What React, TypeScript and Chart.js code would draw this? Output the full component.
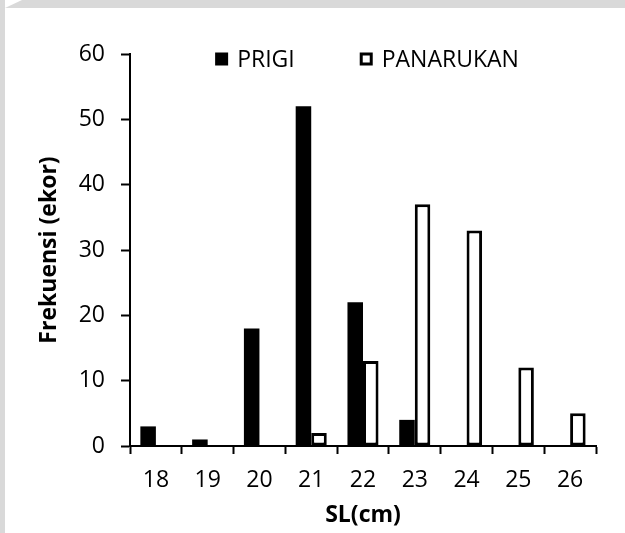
import React, { useEffect, useRef } from "react";
import { Chart, registerables } from "chart.js";

Chart.register(...registerables);

const categories = ["18", "19", "20", "21", "22", "23", "24", "25", "26"];
const prigi = [3, 1, 18, 52, 22, 4, 0, 0, 0];
const panarukan = [0, 0, 0, 2, 13, 37, 33, 12, 5];
const seriesNames = ["PRIGI", "PANARUKAN"];
const yMin = 0;
const yMax = 60;
const yStep = 10;
const xTitle = "SL(cm)";
const yTitle = "Frekuensi (ekor)";

const FONT = "'Open Sans', 'Noto Sans', sans-serif";

const legendPlugin = {
  id: "customLegend",
  afterDraw(chart: any) {
    const ctx = chart.ctx as CanvasRenderingContext2D;
    const area = chart.chartArea;
    ctx.save();
    ctx.font = `23px ${FONT}`;
    ctx.textBaseline = "middle";
    ctx.textAlign = "left";
    const box = 13;
    const gap = 9;
    const itemGap = 65;
    const w0 = ctx.measureText(seriesNames[0]).width;
    const w1 = ctx.measureText(seriesNames[1]).width;
    const total = box + gap + w0 + itemGap + box + gap + w1;
    let x = (area.left + area.right) / 2 + 4 - total / 2;
    const y = area.top + 5;
    ctx.fillStyle = "#000";
    ctx.fillRect(x, y - box / 2, box, box);
    ctx.fillText(seriesNames[0], x + box + gap, y + 1);
    x += box + gap + w0 + itemGap;
    ctx.fillStyle = "#fff";
    ctx.fillRect(x, y - box / 2, box, box);
    ctx.strokeStyle = "#000";
    ctx.lineWidth = 3;
    ctx.strokeRect(x + 1.5, y - box / 2 + 1.5, box - 3, box - 3);
    ctx.fillStyle = "#000";
    ctx.fillText(seriesNames[1], x + box + gap, y + 1);
    ctx.restore();
  },
};

export default function App() {
  const ref = useRef<HTMLCanvasElement | null>(null);

  useEffect(() => {
    if (!ref.current) return;
    const chart = new Chart(ref.current, {
      type: "bar",
      data: {
        labels: categories,
        datasets: [
          {
            label: seriesNames[0],
            data: prigi,
            backgroundColor: "#000",
            borderWidth: 0,
            categoryPercentage: 0.6,
            barPercentage: 1,
          },
          {
            label: seriesNames[1],
            data: panarukan,
            backgroundColor: "#fff",
            borderColor: "#000",
            borderWidth: 3,
            borderSkipped: false,
            categoryPercentage: 0.6,
            barPercentage: 1,
          },
        ],
      },
      options: {
        responsive: false,
        animation: false,
        devicePixelRatio: 1,
        layout: { padding: { left: 0, top: 54, right: 29, bottom: 0 } },
        plugins: {
          legend: { display: false },
          tooltip: { enabled: false },
        },
        scales: {
          x: {
            grid: {
              display: true,
              drawOnChartArea: false,
              drawTicks: true,
              tickLength: 8,
              tickWidth: 2,
              tickColor: "#000",
              offset: true,
            },
            border: { display: true, color: "#000", width: 2 },
            ticks: {
              color: "#000",
              font: { family: FONT, size: 23 },
              padding: 13,
              maxRotation: 0,
            },
            title: {
              display: true,
              text: xTitle,
              color: "#000",
              font: { family: FONT, size: 23, weight: "bold" },
              padding: { top: 0, bottom: 4 },
            },
            afterFit: (scale: any) => {
              scale.height = 87;
            },
          },
          y: {
            min: yMin,
            max: yMax,
            grid: {
              display: true,
              drawOnChartArea: false,
              drawTicks: true,
              tickLength: 9,
              tickWidth: 2,
              tickColor: "#000",
            },
            border: { display: true, color: "#000", width: 2 },
            ticks: {
              stepSize: yStep,
              color: "#000",
              font: { family: FONT, size: 23 },
              padding: 16,
            },
            title: {
              display: true,
              text: yTitle,
              color: "#000",
              font: { family: FONT, size: 23, weight: "bold" },
              padding: { top: 36, bottom: 0 },
            },
            afterFit: (scale: any) => {
              scale.width = 130;
            },
          },
        },
      },
      plugins: [legendPlugin],
    });
    return () => chart.destroy();
  }, []);

  return (
    <div
      style={{
        position: "fixed",
        left: 0,
        top: 0,
        width: 625,
        height: 533,
        background: "#d9d9d9",
        overflow: "hidden",
      }}
    >
      <div
        style={{
          position: "absolute",
          left: 5,
          top: 8,
          right: 0,
          bottom: 0,
          background: "#fff",
        }}
      />
      <div
        style={{
          position: "absolute",
          left: 5,
          top: 0,
          width: 17,
          height: 8,
          background: "#fff",
          clipPath: "polygon(0 0, 100% 0, 0 100%)",
        }}
      />
      <canvas
        ref={ref}
        width={625}
        height={533}
        style={{ position: "absolute", left: 0, top: 0 }}
      />
    </div>
  );
}
